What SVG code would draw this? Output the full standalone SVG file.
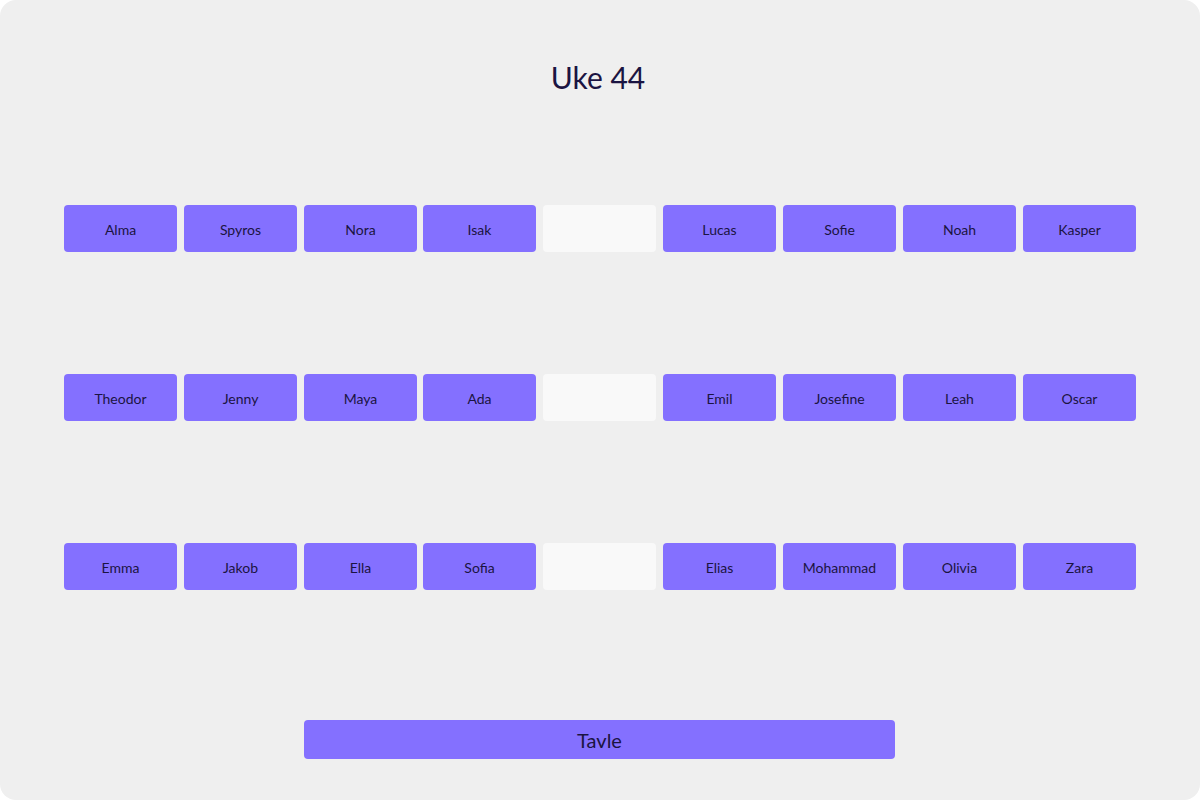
<svg xmlns="http://www.w3.org/2000/svg" width="1200" height="800" viewBox="0 0 1200 800">
<style>
.c{fill:#8470ff}
.e{fill:#f9f9f9}
.t{font-family:"Lato","Liberation Sans",sans-serif;font-size:14px;fill:#1b1442;text-anchor:middle;dominant-baseline:central}
</style>
<rect x="0" y="0" width="1200" height="800" rx="16" fill="#efefef"/>
<text x="598" y="77" style="font-family:Lato,'Liberation Sans',sans-serif;font-size:30px;fill:#1b1442;text-anchor:middle;dominant-baseline:central">Uke 44</text>
<g id="r1">
<g id="n1"><rect class="c" x="64" y="205" width="113" height="47" rx="4"/><text class="t" x="120.5" y="229">Alma</text></g>
<g id="n2"><rect class="c" x="184" y="205" width="113" height="47" rx="4"/><text class="t" x="240.5" y="229">Spyros</text></g>
<g id="n3"><rect class="c" x="304" y="205" width="113" height="47" rx="4"/><text class="t" x="360.5" y="229">Nora</text></g>
<g id="n4"><rect class="c" x="423" y="205" width="113" height="47" rx="4"/><text class="t" x="479.5" y="229">Isak</text></g>
<g id="n5"><rect class="e" x="543" y="205" width="113" height="47" rx="4"/></g>
<g id="n6"><rect class="c" x="663" y="205" width="113" height="47" rx="4"/><text class="t" x="719.5" y="229">Lucas</text></g>
<g id="n7"><rect class="c" x="783" y="205" width="113" height="47" rx="4"/><text class="t" x="839.5" y="229">Sofie</text></g>
<g id="n8"><rect class="c" x="903" y="205" width="113" height="47" rx="4"/><text class="t" x="959.5" y="229">Noah</text></g>
<g id="n9"><rect class="c" x="1023" y="205" width="113" height="47" rx="4"/><text class="t" x="1079.5" y="229">Kasper</text></g>
</g>
<g id="r2">
<g id="n10"><rect class="c" x="64" y="374" width="113" height="47" rx="4"/><text class="t" x="120.5" y="398">Theodor</text></g>
<g id="n11"><rect class="c" x="184" y="374" width="113" height="47" rx="4"/><text class="t" x="240.5" y="398">Jenny</text></g>
<g id="n12"><rect class="c" x="304" y="374" width="113" height="47" rx="4"/><text class="t" x="360.5" y="398">Maya</text></g>
<g id="n13"><rect class="c" x="423" y="374" width="113" height="47" rx="4"/><text class="t" x="479.5" y="398">Ada</text></g>
<g id="n14"><rect class="e" x="543" y="374" width="113" height="47" rx="4"/></g>
<g id="n15"><rect class="c" x="663" y="374" width="113" height="47" rx="4"/><text class="t" x="719.5" y="398">Emil</text></g>
<g id="n16"><rect class="c" x="783" y="374" width="113" height="47" rx="4"/><text class="t" x="839.5" y="398">Josefine</text></g>
<g id="n17"><rect class="c" x="903" y="374" width="113" height="47" rx="4"/><text class="t" x="959.5" y="398">Leah</text></g>
<g id="n18"><rect class="c" x="1023" y="374" width="113" height="47" rx="4"/><text class="t" x="1079.5" y="398">Oscar</text></g>
</g>
<g id="r3">
<g id="n19"><rect class="c" x="64" y="543" width="113" height="47" rx="4"/><text class="t" x="120.5" y="567">Emma</text></g>
<g id="n20"><rect class="c" x="184" y="543" width="113" height="47" rx="4"/><text class="t" x="240.5" y="567">Jakob</text></g>
<g id="n21"><rect class="c" x="304" y="543" width="113" height="47" rx="4"/><text class="t" x="360.5" y="567">Ella</text></g>
<g id="n22"><rect class="c" x="423" y="543" width="113" height="47" rx="4"/><text class="t" x="479.5" y="567">Sofia</text></g>
<g id="n23"><rect class="e" x="543" y="543" width="113" height="47" rx="4"/></g>
<g id="n24"><rect class="c" x="663" y="543" width="113" height="47" rx="4"/><text class="t" x="719.5" y="567">Elias</text></g>
<g id="n25"><rect class="c" x="783" y="543" width="113" height="47" rx="4"/><text class="t" x="839.5" y="567">Mohammad</text></g>
<g id="n26"><rect class="c" x="903" y="543" width="113" height="47" rx="4"/><text class="t" x="959.5" y="567">Olivia</text></g>
<g id="n27"><rect class="c" x="1023" y="543" width="113" height="47" rx="4"/><text class="t" x="1079.5" y="567">Zara</text></g>
</g>
<g id="tavle"><rect class="c" x="304" y="720" width="591" height="39" rx="4"/><text class="t" x="599.5" y="740" style="font-size:20px">Tavle</text></g>
<g id="connectors"/>
</svg>
